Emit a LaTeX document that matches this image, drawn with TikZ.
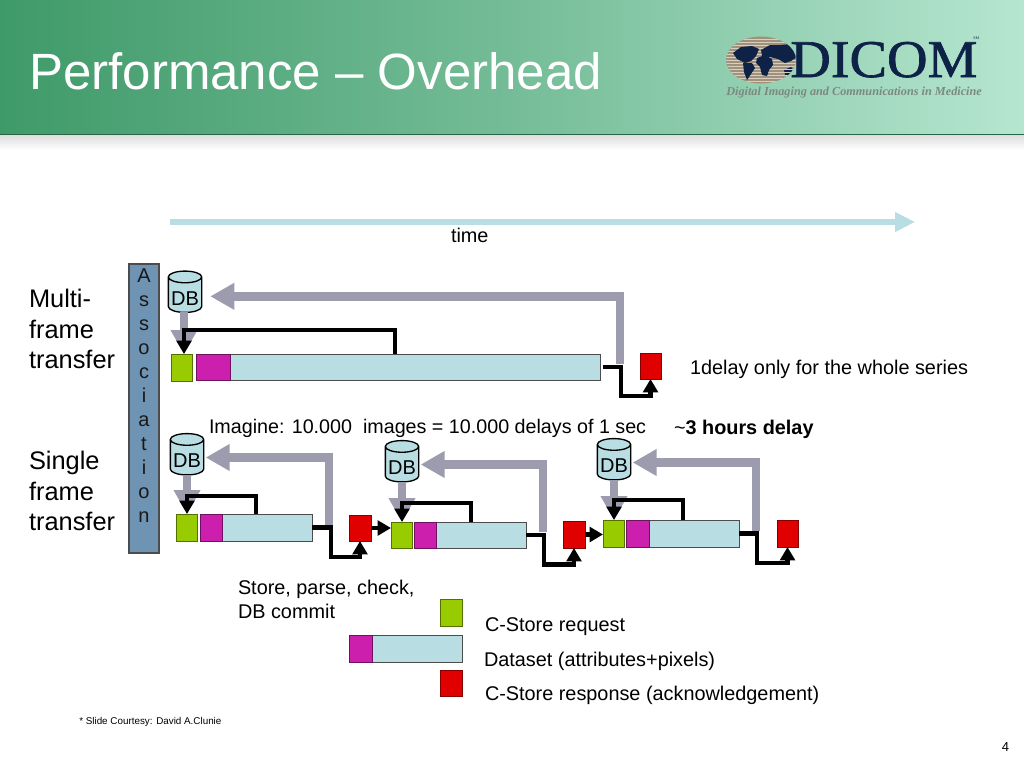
\documentclass[tikz,border=0pt]{standalone}
\usepackage{fontspec}
\setmainfont{Liberation Sans}
\newfontfamily\logofont{Liberation Serif}
\newfontfamily\logoheavy[FakeBold=1.2]{Liberation Serif}
\usetikzlibrary{arrows.meta,shapes.geometric,calc}
\definecolor{hdrL}{HTML}{3F9A69}
\definecolor{hdrR}{HTML}{B6E6D0}
\definecolor{cyanbar}{HTML}{B8DDE2}
\definecolor{greenbox}{HTML}{99CC00}
\definecolor{magbox}{HTML}{CC1FAE}
\definecolor{redbox}{HTML}{E00000}
\definecolor{greyarrow}{HTML}{9C9CAE}
\definecolor{assoc}{HTML}{6F93B3}
\definecolor{navy}{HTML}{0E2248}
\definecolor{tan}{HTML}{A2917A}
\definecolor{subt}{HTML}{7B8A80}
\newcommand\fpx[2]{\fontsize{\the\dimexpr #1pt*3/4\relax}{\the\dimexpr #2pt*3/4\relax}\selectfont}
\newcommand\bx[6]{%
  \pgfmathsetmacro\cxx{(#3+#5)/2}\pgfmathsetmacro\cyy{(#4+#6)/2}%
  \pgfmathsetmacro\wwb{(#5-#3)*0.75}\pgfmathsetmacro\hhb{(#6-#4)*0.75}%
  \node[#2,minimum width=\wwb pt,minimum height=\hhb pt] (#1) at (\cxx,\cyy) {};}
\tikzset{
  boxbase/.style={rectangle,inner sep=0pt,outer sep=0pt,draw=black!75,line width=0.75pt},
  gbox/.style={boxbase,fill=greenbox,draw=greenbox!55!black},
  mbox/.style={boxbase,fill=magbox,draw=magbox!55!black},
  cbox/.style={boxbase,fill=cyanbar,draw=black!70},
  rbox/.style={boxbase,fill=redbox,draw=redbox!60!black},
  dbnode/.style={cylinder,shape border rotate=90,aspect=0.42,draw=black,line width=1pt,fill=cyanbar,
     minimum width=25pt,minimum height=31pt,inner sep=0pt,outer sep=0pt,font=\fpx{20}{22}},
  greyline/.style={draw=greyarrow,line width=6.6pt,-{Triangle[length=18pt,width=19pt]}},
  blackline/.style={draw=black,line width=3.3pt,-{Triangle[length=10pt,width=11pt]}},
  lbl/.style={anchor=west,inner sep=0pt,outer sep=0pt,font=\fpx{19.85}{24},align=left},
  biglbl/.style={anchor=north west,inner sep=0pt,outer sep=0pt,font=\fpx{25.4}{30.4},align=left},
}
\newcommand\dbtext{\raisebox{-2.5pt}[\height][0pt]{DB}}
\begin{document}
\begin{tikzpicture}[x=0.75pt,y=-0.75pt]
\useasboundingbox (0,0) rectangle (1024,768);
\fill[white] (0,0) rectangle (1024,768);
% header
\shade[top color=black!14,bottom color=white] (0,134) rectangle (1024,150);
\shade[left color=hdrL,right color=hdrR,middle color=hdrL!55!hdrR] (0,0) rectangle (1024,134);
\draw[draw=black!35!hdrL,line width=0.75pt] (0,134) -- (1024,134);
\node[anchor=west,inner sep=0pt,text=white,font=\fpx{51}{54}] (title) at (29,71) {Performance – Overhead};
% logo
\begin{scope}
  \clip (761,60) ellipse [x radius=35,y radius=23.5];
  \fill[tan] (720,30) rectangle (800,90);
  \foreach \yy in {39,42,...,84} {\draw[tan!45!white,line width=0.7pt] (720,\yy) -- (800,\yy);}
  \fill[navy] (733,53) -- (741,47) -- (752,46) -- (759,49) -- (756,56) -- (751,61) -- (745,63) -- (737,59) -- cycle;
  \fill[navy] (743,63) -- (752,63) -- (755,68) -- (751,74) -- (747,80) -- (744,72) -- cycle;
  \fill[navy] (757,58) -- (765,55) -- (772,59) -- (773,65) -- (769,70) -- (767,76) -- (762,75) -- (760,67) -- (756,63) -- cycle;
  \fill[navy] (761,50) -- (770,45) -- (780,45) -- (792,44) -- (799,50) -- (797,57) -- (791,61) -- (785,63) -- (778,59) -- (770,57) -- (762,56) -- cycle;
  \fill[navy] (784,70) -- (791,67) -- (795,72) -- (790,76) -- (785,75) -- cycle;
  \foreach \yy in {63,66,...,84} {\draw[tan!45!white,line width=0.4pt] (775,\yy) -- (800,\yy);}
\end{scope}
\node[anchor=base west,inner sep=0pt,text=navy,text depth=0pt,font=\logoheavy\fpx{53}{56},xscale=1.06] (dicom) at (790,77) {DICOM};
\node[anchor=west,inner sep=0pt,text=navy,font=\logofont\fpx{4}{5}] (sm) at (973,38) {SM};
\node[anchor=west,inner sep=0pt,text=subt,font=\logofont\bfseries\itshape\fpx{12.25}{13}] (subtitle) at (726,93) {Digital Imaging and Communications in Medicine};
% time
\coordinate (timeA) at (170,222);
\coordinate (timeB) at (915,222);
\draw[draw=cyanbar,line width=4.5pt,-{Triangle[length=15pt,width=14pt]}] (timeA) -- (timeB);
\node[lbl] (time) at (451,235) {time};
% association
\node[rectangle,draw=black!70,line width=0.8pt,fill=assoc,minimum width=22.5pt,minimum height=216.75pt,inner sep=0pt,outer sep=0pt] (assocbox) at (144,408.5) {};
\node[inner sep=0pt,align=center,font=\fpx{20}{24},text=black!90] (assoctext) at (144,396) {A\\s\\s\\o\\c\\i\\a\\t\\i\\o\\n};
\node[biglbl] (multi) at (29,289.5) {Multi-\\frame\\transfer};
\node[biglbl] (single) at (29,451.5) {Single\\frame\\transfer};
% DBs
\node[dbnode] (db1) at (185,295) {\dbtext};
\node[dbnode] (db2) at (187,457.5) {\dbtext};
\node[dbnode] (db3) at (402,464.5) {\dbtext};
\node[dbnode] (db4) at (614,462.5) {\dbtext};
% multi-frame boxes
\bx{g1}{gbox}{171}{354}{192}{381}
\bx{c1}{cbox}{230}{354}{600}{380}
\bx{m1}{mbox}{196}{354}{230}{380}
\bx{r1}{rbox}{640}{353}{661}{379}
% single-frame boxes
\bx{g2}{gbox}{176}{514}{197}{541}
\bx{c2}{cbox}{222}{514}{312}{541}
\bx{m2}{mbox}{200}{514}{222}{541}
\bx{r2}{rbox}{349}{515}{371}{541}
\bx{g3}{gbox}{391}{522}{412}{548}
\bx{c3}{cbox}{436}{522}{526}{548}
\bx{m3}{mbox}{414}{522}{436}{548}
\bx{r3}{rbox}{563}{521}{585}{548}
\bx{g4}{gbox}{603}{520}{624}{547}
\bx{c4}{cbox}{649}{520}{739}{547}
\bx{m4}{mbox}{626}{520}{649}{547}
\bx{r4}{rbox}{777}{520}{798}{547}
% grey: DB to request
\draw[greyline] ([xshift=-0.75pt]db1.south) -- ([xshift=-0.75pt]db1.south |- g1.north);
\foreach \d/\g in {db2/g2,db3/g3,db4/g4}{
  \draw[greyline] (\d.south) -- (\d.south |- \g.north);
}
% grey: dataset back to DB
\draw[greyline] ([xshift=15pt,yshift=2pt]c1.east) |- ([xshift=6.5pt,yshift=-1pt]db1.east);
\draw[greyline] ([xshift=12.75pt,yshift=2pt]c2.east) |- ([xshift=1.5pt]db2.east);
\draw[greyline] ([xshift=12.75pt,yshift=2pt]c3.east) |- ([xshift=1.5pt]db3.east);
\draw[greyline] ([xshift=12.75pt,yshift=2pt]c4.east) |- ([xshift=1.5pt]db4.east);
% black: dataset to request
\draw[blackline] ([xshift=-15pt]c1.north) -- ++(0,-24) -| ([xshift=-0.75pt]g1.north -| db1.south);
\draw[blackline] ([xshift=-8.25pt]c2.north) -- ++(0,-18) -| (g2.north -| db2.south);
\draw[blackline] ([xshift=-7.5pt]c3.north) -- ++(0,-19) -| (g3.north -| db3.south);
\draw[blackline] ([xshift=-8.25pt]c4.north) -- ++(0,-20) -| (g4.north -| db4.south);
% black: dataset to response
\draw[blackline] ([xshift=2.25pt]c1.east) -- ++(18,0) -- ++(0,29) -| (r1.south);
\draw[blackline] (c2.east) -- ++(19,0) -- ++(0,29.5) -| (r2.south);
\draw[blackline] (c3.east) -- ++(18,0) -- ++(0,29.5) -| (r3.south);
\draw[blackline] (c4.east) -- ++(18,0) -- ++(0,29.5) -| (r4.south);
% black: response to next request
\draw[blackline] (r2.east) -- (r2.east -| g3.west);
\draw[blackline] (r3.east) -- (r3.east -| g4.west);
% texts
\node[lbl] (note1) at (690,369.5) {1delay only for the whole series};
\node[lbl,font=\fpx{19.7}{24}] (imagine) at (209,428) {Imagine: 10.000\ \ images = 10.000 delays of 1 sec};
\node[lbl] (hours) at (674,429.5) {\textasciitilde\bfseries 3 hours delay};
\node[lbl,anchor=north west] (store) at (238,580) {Store, parse, check,\\DB commit};
% legend
\bx{lg}{gbox}{440}{599}{462}{626}
\bx{lc}{cbox}{372}{635}{462}{662}
\bx{lm}{mbox}{349}{635}{372}{662}
\bx{lr}{rbox}{440}{670}{462}{696}
\node[lbl] (l1) at (485,626.5) {C-Store request};
\node[lbl] (l2) at (484,661.5) {Dataset (attributes+pixels)};
\node[lbl] (l3) at (485,695.5) {C-Store response (acknowledgement)};
\node[anchor=west,inner sep=0pt,font=\fpx{9.85}{11}] (credit) at (79,722) {* Slide Courtesy: David A.Clunie};
\node[anchor=west,inner sep=0pt,font=\fpx{13}{14}] (pagenum) at (1001.5,747) {4};
\end{tikzpicture}
\end{document}
